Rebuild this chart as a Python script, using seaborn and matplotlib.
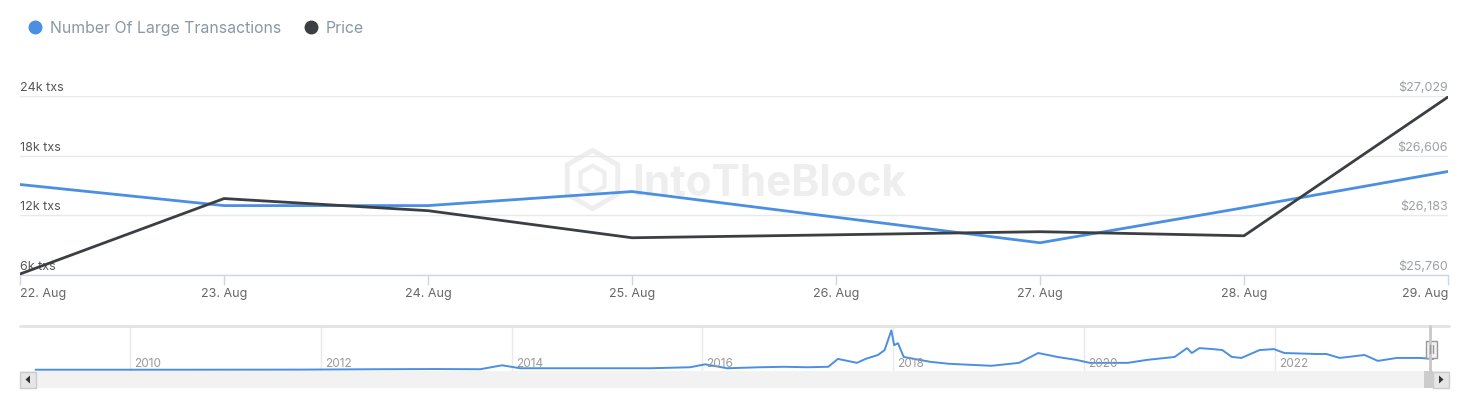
import numpy as np
import pandas as pd
import matplotlib
matplotlib.use("Agg")
import matplotlib.pyplot as plt
import matplotlib.transforms as mtransforms
from matplotlib.lines import Line2D
from matplotlib.patches import Rectangle, Polygon
import seaborn as sns

# ---------------- data ----------------
DATES = ["2023-08-22", "2023-08-23", "2023-08-24", "2023-08-25",
         "2023-08-26", "2023-08-27", "2023-08-28", "2023-08-29"]
DATE_LABELS = ["22. Aug", "23. Aug", "24. Aug", "25. Aug",
               "26. Aug", "27. Aug", "28. Aug", "29. Aug"]
LARGE_TX = [15100, 12980, 12980, 14390, 11810, 9240, 12770, 16410]
PRICE = [25767, 26302, 26216, 26024, 26045, 26067, 26038, 27022]

TX_TICKS = [6000, 12000, 18000, 24000]
TX_TICK_LABELS = ["6k txs", "12k txs", "18k txs", "24k txs"]
PRICE_TICKS = [25760, 26183, 26606, 27029]
PRICE_TICK_LABELS = ["$25,760", "$26,183", "$26,606", "$27,029"]

SERIES_NAMES = ["Number Of Large Transactions", "Price"]

# navigator (history overview), relative heights
NAV_YEARS = [2009.01, 2010.5, 2011.78, 2012.6, 2013.2, 2013.67, 2013.90, 2014.09,
             2014.8, 2015.45, 2015.87, 2016.03, 2016.26, 2016.6, 2016.86, 2017.1,
             2017.32, 2017.42, 2017.62, 2017.71, 2017.84, 2017.91, 2017.98, 2018.01,
             2018.05, 2018.11, 2018.39, 2018.59, 2019.03, 2019.32, 2019.52, 2019.72,
             2019.92, 2020.06, 2020.46, 2020.66, 2020.95, 2021.08, 2021.13, 2021.21,
             2021.35, 2021.45, 2021.55, 2021.65, 2021.84, 2021.99, 2022.10, 2022.44,
             2022.54, 2022.68, 2022.94, 2023.08, 2023.28, 2023.52, 2023.66]
NAV_VALUES = [0.5, 0.5, 0.6, 1.0, 1.2, 1.0, 5.0, 2.0,
              2.0, 2.0, 3.0, 6.0, 2.0, 3.0, 3.5, 3.0,
              3.5, 11.5, 7.5, 11.5, 15.5, 20.5, 40.5, 25.5,
              27.5, 13.5, 8.5, 6.5, 4.5, 7.5, 17.5, 13.5,
              10.5, 7.5, 7.5, 10.5, 13.5, 22.5, 17.5, 22.5,
              21.5, 20.5, 13.5, 12.5, 20.5, 21.5, 17.5, 16.5,
              16.5, 12.5, 15.5, 9.5, 12.5, 12.5, 11.5]
NAV_TICKS = [2010, 2012, 2014, 2016, 2018, 2020, 2022]

# ---------------- style ----------------
sns.set_theme(style="white")
plt.rcParams["font.family"] = ["Inter", "DejaVu Sans"]

BLUE = "#4a8fe2"
DARK = "#3b3e42"
GRID = "#e9e9e9"
AXIS = "#ccd6eb"

W, H = 1457, 397
fig = plt.figure(figsize=(W / 100, H / 100), dpi=100)


def fx(px):
    return px / W


def fy(py):
    return 1 - py / H


df = pd.DataFrame({"date": pd.to_datetime(DATES), "tx": LARGE_TX, "price": PRICE})

# ---------------- main chart ----------------
left, right, top, bottom = 20, 1448, 96, 275
ax = fig.add_axes([fx(left), fy(bottom), fx(right - left), (bottom - top) / H])
sns.lineplot(data=df, x="date", y="tx", ax=ax, color=BLUE, linewidth=2.0, zorder=3)
ax2 = ax.twinx()
sns.lineplot(data=df, x="date", y="price", ax=ax2, color=DARK, linewidth=2.0, zorder=3)

ax.set_xlim(df["date"].iloc[0], df["date"].iloc[-1])
ax.set_ylim(TX_TICKS[0], TX_TICKS[-1])
ax.set_yticks(TX_TICKS)
ax.yaxis.grid(True, color=GRID, linewidth=1.0)
ax.tick_params(axis="y", left=False, right=False, labelleft=False, labelright=False)
ax.set_xticks(df["date"])
ax.set_xticklabels(DATE_LABELS)
ax.tick_params(axis="x", bottom=True, length=7.5, width=1, color=AXIS,
               labelsize=9, labelcolor="#666666", pad=2)
xl = ax.get_xticklabels()
xl[0].set_ha("left")
xl[-1].set_ha("right")
ax.set_xlabel("")
ax.set_ylabel("")
for s in ["top", "left", "right"]:
    ax.spines[s].set_visible(False)
ax.spines["bottom"].set_color(AXIS)
ax.spines["bottom"].set_linewidth(1.0)

tr_left = mtransforms.offset_copy(ax.get_yaxis_transform(), fig=fig, y=3.6, units="points")
for v, lab in zip(TX_TICKS, TX_TICK_LABELS):
    ax.text(0.0, v, lab, transform=tr_left, ha="left", va="baseline",
            fontsize=9, color="#555555", zorder=1)

ax2.set_ylim(PRICE_TICKS[0], PRICE_TICKS[-1])
ax2.set_yticks(PRICE_TICKS)
ax2.tick_params(axis="y", left=False, right=False, labelleft=False, labelright=False)
ax2.set_ylabel("")
for s in ["top", "left", "right", "bottom"]:
    ax2.spines[s].set_visible(False)
tr_right = mtransforms.offset_copy(ax2.get_yaxis_transform(), fig=fig, y=3.6, units="points")
for v, lab in zip(PRICE_TICKS, PRICE_TICK_LABELS):
    ax2.text(1.0, v, lab, transform=tr_right, ha="right", va="baseline",
             fontsize=9, color="#9aa0a6")

# watermark (drawn inside the main axes, under the lines)
wm = "#eeeeee"
ax.text(fx(632), fy(196), "IntoTheBlock", fontsize=30.5, fontweight="bold",
        color=wm, ha="left", va="baseline", zorder=0.5, transform=fig.transFigure)
ax.add_artist(Line2D([fx(592)], [fy(179)], marker="h", markersize=42,
                     markerfacecolor="none", markeredgecolor=wm,
                     markeredgewidth=3.5, transform=fig.transFigure, zorder=0.5))
ax.add_artist(Line2D([fx(592)], [fy(179)], marker="h", markersize=20,
                     markerfacecolor="none", markeredgecolor=wm,
                     markeredgewidth=3, transform=fig.transFigure, zorder=0.5))

# legend
handles = [Line2D([], [], marker="o", linestyle="none", markersize=9,
                  markerfacecolor=c, markeredgecolor=c) for c in (BLUE, DARK)]
fig.legend(handles, SERIES_NAMES, loc="center left",
           bbox_to_anchor=(fx(27.5), fy(28.5)), ncol=2, frameon=False,
           fontsize=11.4, labelcolor="#8a98a6", handlelength=1.0,
           handletextpad=0.42, columnspacing=1.4, borderpad=0, borderaxespad=0)

# ---------------- navigator ----------------
nav_top, nav_bottom = 326, 371
axn = fig.add_axes([fx(20), fy(nav_bottom), fx(1437 - 20), (nav_bottom - nav_top) / H])
sns.lineplot(x=NAV_YEARS, y=NAV_VALUES, ax=axn, color=BLUE, linewidth=1.4)
axn.set_xlim(2008.847, 2023.70)
axn.set_ylim(-0.8, 45)
axn.set_xticks(NAV_TICKS)
axn.xaxis.grid(True, color=GRID, linewidth=1.0)
axn.tick_params(axis="both", bottom=False, left=False, labelbottom=False, labelleft=False)
for s in ["left", "right", "bottom", "top"]:
    axn.spines[s].set_visible(False)
tr_nav = mtransforms.offset_copy(axn.get_xaxis_transform(), fig=fig, x=3, y=-1.5, units="points")
for yr in NAV_TICKS:
    axn.text(yr, 0.2, str(yr), transform=tr_nav, ha="left", va="center",
             fontsize=8.5, color="#999999")

# outline, handle, scrollbar (overlay axes in pixel coords)
ov = fig.add_axes([0, 0, 1, 1], facecolor="none")
ov.set_xlim(0, W)
ov.set_ylim(H, 0)
ov.axis("off")
ov.plot([20, 1449], [326, 326], color="#e3e3e3", linewidth=2)
ov.plot([1430, 1430], [326, 371], color="#c8c8c8", linewidth=2)
# scrollbar
ov.add_patch(Rectangle((20, 371), 1429, 17, facecolor="#f2f2f2", edgecolor="none"))
ov.add_patch(Rectangle((19.5, 371.5), 16, 16, facecolor="#e6e6e6", edgecolor="#cccccc", linewidth=1))
ov.add_patch(Rectangle((1424, 371), 9, 17, facecolor="#cccccc", edgecolor="none"))
ov.add_patch(Rectangle((1433, 371.5), 16, 16, facecolor="#e6e6e6", edgecolor="#cccccc", linewidth=1))
ov.add_patch(Polygon([[30, 375.5], [30, 383.5], [25.5, 379.5]], closed=True,
                     facecolor="#333333", edgecolor="none"))
ov.add_patch(Polygon([[1439, 375.5], [1439, 383.5], [1443.5, 379.5]], closed=True,
                     facecolor="#333333", edgecolor="none"))
# handle
ov.add_patch(Rectangle((1425.5, 340.5), 11, 17, facecolor="#f2f2f2", edgecolor="#999999", linewidth=1))
ov.plot([1429.5, 1429.5], [345, 353], color="#999999", linewidth=1)
ov.plot([1432.5, 1432.5], [345, 353], color="#999999", linewidth=1)

fig.savefig("out.png", dpi=100, facecolor="white")
